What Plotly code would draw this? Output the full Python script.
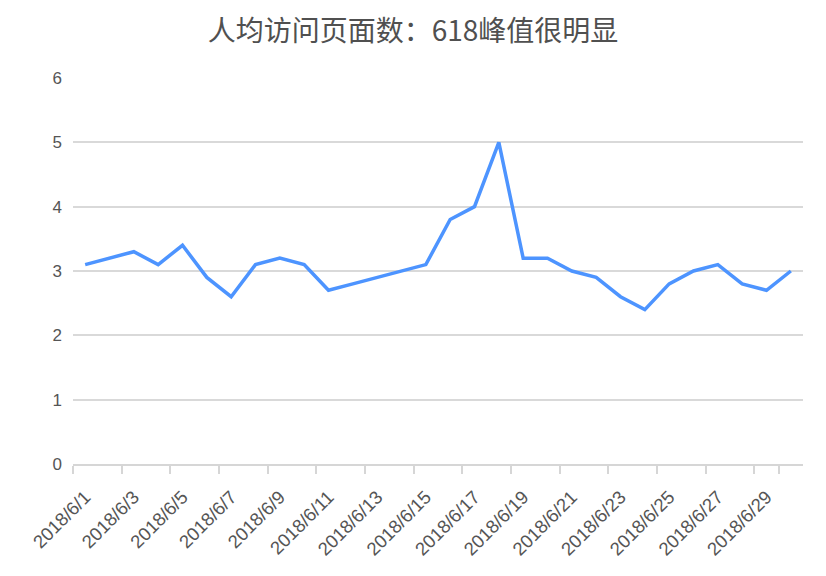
import plotly.graph_objects as go

dates = [f"2018/6/{d}" for d in range(1, 31)]
values = [3.1, 3.2, 3.3, 3.1, 3.4, 2.9, 2.6, 3.1, 3.2, 3.1,
          2.7, 2.8, 2.9, 3.0, 3.1, 3.8, 4.0, 5.0, 3.2, 3.2,
          3.0, 2.9, 2.6, 2.4, 2.8, 3.0, 3.1, 2.8, 2.7, 3.0]
tick_labels = dates[::2]
title = "人均访问页面数：618峰值很明显"

fig = go.Figure()
fig.add_trace(go.Scatter(
    x=dates, y=values, mode="lines",
    line=dict(color="#4d94ff", width=3.5),
    hoverinfo="x+y",
))

fig.update_layout(
    width=810, height=560,
    margin=dict(l=65, r=15, t=70, b=104),
    paper_bgcolor="white", plot_bgcolor="white",
    showlegend=False,
    font=dict(family="Liberation Sans, Arial, sans-serif", color="#555555", size=17),
    title=dict(text=title, x=0.5, xanchor="center", y=0.958, yanchor="middle",
               font=dict(family="Noto Sans CJK SC, sans-serif", size=28, color="#505050")),
)
fig.update_xaxes(
    type="category", categoryorder="array", categoryarray=dates,
    tickmode="array", tickvals=tick_labels, ticktext=tick_labels,
    tickson="boundaries", ticks="outside", ticklen=8, tickcolor="#d6d6d6", tickwidth=2,
    tickangle=-45, showgrid=False, showline=True, linecolor="#d6d6d6", linewidth=2,
    range=[-0.5, 29.5], ticklabelstandoff=13, automargin=False,
    tickfont=dict(size=18.5, color="#555555"),
)
fig.update_yaxes(
    range=[0, 6], tickvals=[0, 1, 2, 3, 4, 5, 6], showgrid=True, gridcolor="#d9d9d9",
    gridwidth=1.5, zeroline=False, showline=False, ticks="", ticklabelstandoff=10,
    automargin=False, tickfont=dict(size=17, color="#555555"),
)
fig.write_html("out.html")
